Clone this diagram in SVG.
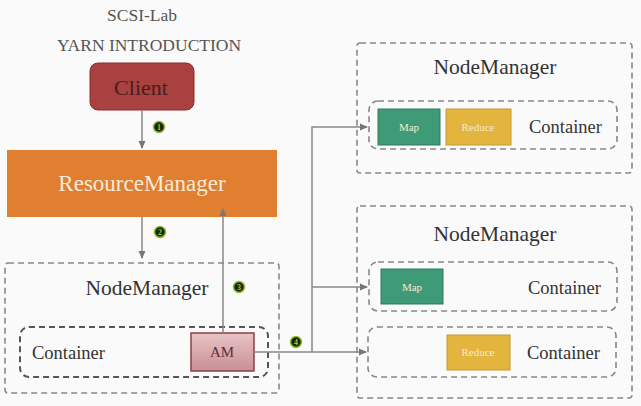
<svg xmlns="http://www.w3.org/2000/svg" width="641" height="406" viewBox="0 0 641 406" font-family="'Liberation Serif', 'DejaVu Serif', serif">
<style>
text{font-family:"Liberation Serif","DejaVu Serif",serif}
.title{font-size:17.5px;fill:#555;text-anchor:middle}
.nm{font-size:21.5px;fill:#333;text-anchor:middle}
.ct{font-size:18.5px;fill:#333}
.dash{fill:none;stroke:#888;stroke-width:1.6;stroke-dasharray:6,4}
.dashd{fill:none;stroke:#555;stroke-width:2;stroke-dasharray:6,4}
.edge{fill:none;stroke:#888;stroke-width:1.5}
.map{fill:#3f9a77;stroke:#2f7a5c;stroke-width:1}
.red{fill:#e3b53f;stroke:#c49a2e;stroke-width:1}
.small{font-size:11px;fill:#f2ecd0;text-anchor:middle}
.badge{fill:#1a2410;stroke:#8fbf2a;stroke-width:1.5}
.bn{font-size:8px;fill:#9ccf2e;text-anchor:middle;font-weight:bold}
</style>
<defs>
<marker id="ah" markerWidth="8" markerHeight="8" refX="7" refY="4" orient="auto" markerUnits="userSpaceOnUse">
<path d="M0,0.5 L8,4 L0,7.5 Z" fill="#777"/>
</marker>
<linearGradient id="amg" x1="0" y1="0" x2="0" y2="1"><stop offset="0" stop-color="#e9c3c6"/><stop offset="1" stop-color="#c98f95"/></linearGradient>
</defs>
<rect width="641" height="406" fill="#fafafa"/>
<text class="title" x="142" y="21">SCSI-Lab</text>
<text class="title" x="149" y="51">YARN INTRODUCTION</text>

<g id="client">
<rect x="90" y="63" width="104" height="47" rx="8" fill="#a8413f" stroke="#8a2f2e" stroke-width="1"/>
<text x="141" y="95" font-size="22" fill="#4a1d1c" text-anchor="middle">Client</text>
</g>

<g id="resourcemanager">
<rect x="7" y="150" width="270" height="67" fill="#e07f30"/>
<text x="142" y="191" font-size="23" fill="#f5ead6" text-anchor="middle">ResourceManager</text>
</g>

<g id="nodemanager-left">
<rect class="dash" x="5" y="263" width="274" height="130" rx="3"/>
<text class="nm" x="147" y="295">NodeManager</text>
<g id="container-left">
<rect class="dashd" x="20" y="327" width="248" height="50" rx="9"/>
<text class="ct" x="32" y="359">Container</text>
</g>
<g id="am">
<rect x="191" y="333" width="63" height="38" fill="url(#amg)" stroke="#8a4048" stroke-width="1.5"/>
<text x="222" y="357" font-size="15" fill="#5a3034" text-anchor="middle">AM</text>
</g>
</g>

<g id="nodemanager-top">
<rect class="dash" x="357" y="43" width="275" height="130" rx="3"/>
<text class="nm" x="495" y="74">NodeManager</text>
<g id="container-top">
<rect class="dash" x="369" y="101" width="248" height="48" rx="9"/>
<rect class="map" x="378" y="109" width="62" height="36"/>
<text class="small" x="409" y="131">Map</text>
<rect class="red" x="446" y="109" width="65" height="36"/>
<text class="small" x="478" y="131" font-size="10">Reduce</text>
<text class="ct" x="529" y="133">Container</text>
</g>
</g>

<g id="nodemanager-bottom">
<rect class="dash" x="357" y="206" width="275" height="192" rx="3"/>
<text class="nm" x="495" y="241">NodeManager</text>
<g id="container-b1">
<rect class="dash" x="369" y="262" width="248" height="49" rx="9"/>
<rect class="map" x="381" y="269" width="62" height="35"/>
<text class="small" x="412" y="291">Map</text>
<text class="ct" x="528" y="294">Container</text>
</g>
<g id="container-b2">
<rect class="dash" x="368" y="327" width="248" height="50" rx="9"/>
<rect class="red" x="447" y="335" width="63" height="35"/>
<text class="small" x="478" y="356" font-size="10">Reduce</text>
<text class="ct" x="527" y="359">Container</text>
</g>
</g>

<g id="connectors">
<line class="edge" x1="142" y1="110" x2="142" y2="148" marker-end="url(#ah)"/>
<line class="edge" x1="142" y1="217" x2="142" y2="258" marker-end="url(#ah)"/>
<line class="edge" x1="223" y1="333" x2="223" y2="209" marker-end="url(#ah)"/>
<polyline class="edge" points="254,352 312,352 312,127 367,127" marker-end="url(#ah)"/>
<line class="edge" x1="312" y1="287" x2="367" y2="287" marker-end="url(#ah)"/>
<line class="edge" x1="312" y1="352" x2="366" y2="352" marker-end="url(#ah)"/>
<g id="badge1"><circle class="badge" cx="159" cy="127" r="5.5"/><text class="bn" x="159" y="130">1</text></g>
<g id="badge2"><circle class="badge" cx="160" cy="232" r="5.5"/><text class="bn" x="160" y="235">2</text></g>
<g id="badge3"><circle class="badge" cx="239" cy="287" r="5.5"/><text class="bn" x="239" y="290">3</text></g>
<g id="badge4"><circle class="badge" cx="296" cy="342" r="5.5"/><text class="bn" x="296" y="345">4</text></g>
</g>
</svg>
